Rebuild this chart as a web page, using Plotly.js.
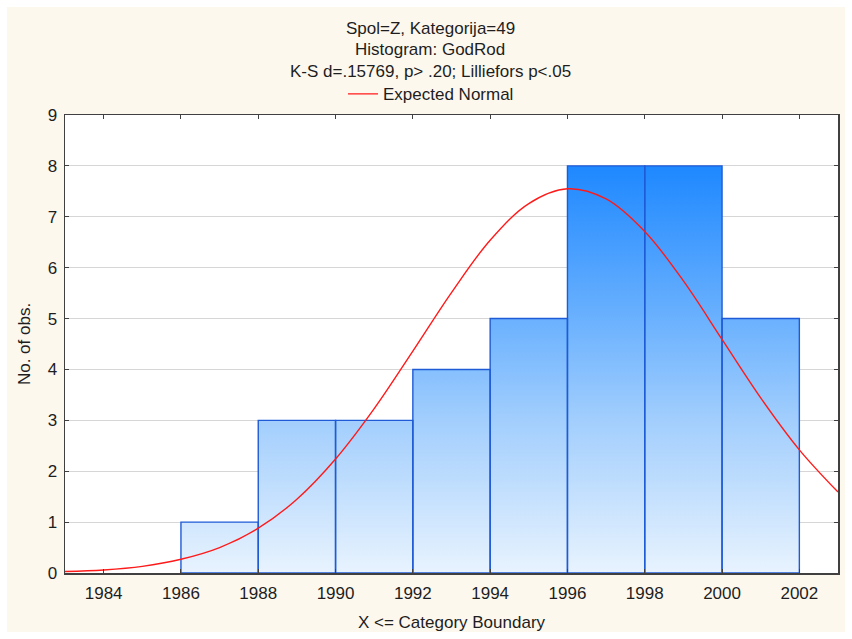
<!DOCTYPE html>
<html><head><meta charset="utf-8">
<script src="https://cdn.plot.ly/plotly-3.0.1.min.js"></script>
<style>html,body{margin:0;padding:0;background:#ffffff;} #chart{position:absolute;left:7px;top:7px;width:838px;height:625px;}</style>
</head><body><div id="chart"></div>
<script>
// Histogram bins (category boundaries) and counts
const binStart = [1986, 1988, 1990, 1992, 1994, 1996, 1998, 2000];
const binEnd   = [1988, 1990, 1992, 1994, 1996, 1998, 2000, 2002];
const counts   = [1, 3, 3, 4, 5, 8, 8, 5];

// Expected normal curve
const curveX = [1983, 1984, 1985, 1986, 1987, 1988, 1989, 1990, 1991, 1992, 1993,
                1994, 1995, 1996, 1997, 1998, 1999, 2000, 2001, 2002, 2003];
const curveY = [0.03, 0.06, 0.13, 0.27, 0.50, 0.88, 1.45, 2.24, 3.23, 4.36, 5.51,
                6.54, 7.26, 7.55, 7.35, 6.71, 5.74, 4.59, 3.44, 2.42, 1.59];

const xTicks = [1984, 1986, 1988, 1990, 1992, 1994, 1996, 1998, 2000, 2002];
const yTicks = [0, 1, 2, 3, 4, 5, 6, 7, 8, 9];

const titleLines = ["Spol=Z, Kategorija=49", "Histogram: GodRod",
                    "K-S d=.15769, p> .20; Lilliefors p<.05"];
const xTitle = "X <= Category Boundary";
const yTitle = "No. of obs.";
const curveName = "Expected Normal";

const FONT = "Liberation Sans, Arial, sans-serif";
const FS = 17;
const TXT = "#1E1E1E";

// Build bar polygons from the bin arrays
const bx = [], by = [];
for (let i = 0; i < counts.length; i++) {
  bx.push(binStart[i], binStart[i], binEnd[i], binEnd[i], binStart[i], null);
  by.push(0, counts[i], counts[i], 0, 0, null);
}

const bars = {
  type: 'scatter', mode: 'lines', x: bx, y: by, fill: 'toself',
  connectgaps: false,
  line: {color: '#1F5BD6', width: 1.4},
  fillgradient: {type: 'vertical', start: 0, stop: 8,
    colorscale: [[0, '#E8F3FE'], [0.375, '#A2CEFD'], [0.625, '#6AB1FE'], [1, '#1E88FF']]},
  showlegend: false, hoverinfo: 'skip'
};

const curve = {
  type: 'scatter', mode: 'lines', x: curveX, y: curveY, name: curveName,
  line: {color: '#FF1A1A', width: 1.4, shape: 'spline'}
};

const yAt = (py) => (566 - (py - 7)) / 458;
const xAt = (px) => (px - 65) / 773;

const annotations = titleLines.map((t, i) => ({
  text: t, xref: 'paper', yref: 'paper', x: xAt(430), y: yAt([29, 49.5, 71.7][i]),
  xanchor: 'center', yanchor: 'middle', showarrow: false,
  font: {family: FONT, size: FS, color: TXT}
}));

const layout = {
  width: 838, height: 625,
  margin: {l: 58, r: 7, t: 108, b: 59},
  paper_bgcolor: '#FDF8EE', plot_bgcolor: '#FFFFFF',
  font: {family: FONT, size: FS, color: TXT},
  showlegend: true,
  legend: {orientation: 'h', x: xAt(431) - 0.0, xanchor: 'center', y: yAt(94.3), yanchor: 'middle',
           bgcolor: 'rgba(0,0,0,0)', font: {family: FONT, size: FS, color: TXT},
           itemwidth: 30},
  annotations: annotations,
  xaxis: {
    range: [1983, 2003], tickvals: xTicks, ticktext: xTicks.map(String),
    ticks: 'inside', ticklen: 4, tickcolor: '#404040', tickwidth: 1,
    showline: true, linecolor: '#404040', linewidth: 1.5, mirror: 'ticks',
    showgrid: false, zeroline: false, ticklabelstandoff: 4,
    tickfont: {family: FONT, size: FS, color: TXT},
    title: {text: xTitle, font: {family: FONT, size: FS, color: TXT}, standoff: 16},
    automargin: false
  },
  yaxis: {
    range: [0, 9], tickvals: yTicks, ticktext: yTicks.map(String),
    ticks: 'inside', ticklen: 4, tickcolor: '#404040', tickwidth: 1,
    showline: true, linecolor: '#404040', linewidth: 1.5, mirror: 'ticks',
    showgrid: true, gridcolor: '#D6D6D6', gridwidth: 1, zeroline: false,
    ticklabelstandoff: 3,
    tickfont: {family: FONT, size: FS, color: TXT},
    title: {text: yTitle, font: {family: FONT, size: FS, color: TXT}, standoff: 12},
    automargin: false
  }
};

Plotly.newPlot('chart', [bars, curve], layout, {displayModeBar: false, staticPlot: true});
</script></body></html>
